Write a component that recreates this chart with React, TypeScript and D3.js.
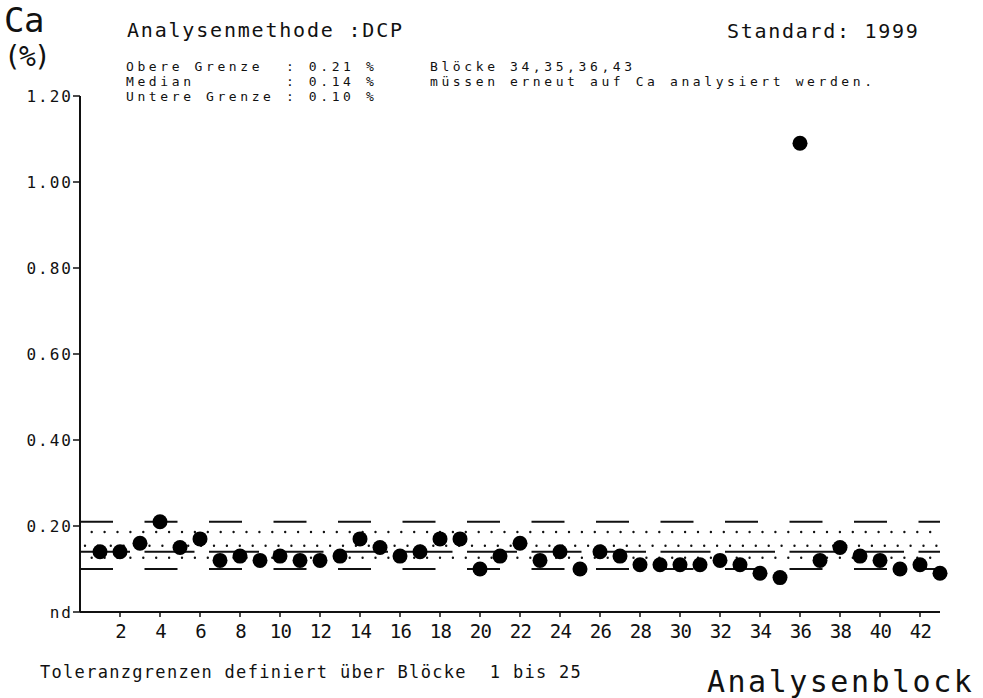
import * as d3 from "d3";

// Ca-Gehalt je Analysenblock (%)
const caValues = [
  0.14, 0.14, 0.16, 0.21, 0.15, 0.17, 0.12, 0.13, 0.12, 0.13,
  0.12, 0.12, 0.13, 0.17, 0.15, 0.13, 0.14, 0.17, 0.17, 0.1,
  0.13, 0.16, 0.12, 0.14, 0.1, 0.14, 0.13, 0.11, 0.11, 0.11,
  0.11, 0.12, 0.11, 0.09, 0.08, 1.09, 0.12, 0.15, 0.13, 0.12,
  0.1, 0.11, 0.09,
];
const blocks = caValues.map((_, i) => i + 1);

const xTicks = [2, 4, 6, 8, 10, 12, 14, 16, 18, 20, 22, 24, 26, 28, 30, 32, 34, 36, 38, 40, 42];
const yTicks = [0, 0.2, 0.4, 0.6, 0.8, 1.0, 1.2];
const yTickLabels = ["nd", "0.20", "0.40", "0.60", "0.80", "1.00", "1.20"];

const upperLimit = 0.21;
const medianValue = 0.14;
const lowerLimit = 0.1;
const dottedBands = [0.186, 0.154, 0.126];

const infoLines = [
  "Obere Grenze  : 0.21 %",
  "Median        : 0.14 %",
  "Untere Grenze : 0.10 %",
];
const noteLines = ["Blöcke 34,35,36,43", "müssen erneut auf Ca analysiert werden."];

const WIDTH = 983;
const HEIGHT = 698;
const FONT = "'DejaVu Sans Mono', monospace";

const App = () => {
  const xScale = d3.scaleLinear().domain([0, 43]).range([80, 940]);
  const yScale = d3.scaleLinear().domain([0, 1.2]).range([612, 96]);

  const x0 = xScale(0);
  const x1 = xScale(43);
  const period = 64.5;

  const textBase = { fontFamily: FONT, fill: "#111", whiteSpace: "pre" as const };

  return (
    <svg
      width={WIDTH}
      height={HEIGHT}
      style={{ position: "absolute", left: 0, top: 0, background: "#fff" }}
    >
      {/* header */}
      <text x={4} y={32} fontSize={34} letterSpacing={-0.5} style={textBase}>
        Ca
      </text>
      <text x={4} y={66} fontSize={28} letterSpacing={-1.8} style={textBase}>
        (%)
      </text>
      <text x={127} y={37} fontSize={20} letterSpacing={1.8} style={textBase}>
        Analysenmethode :DCP
      </text>
      <text x={727} y={38} fontSize={20} letterSpacing={1.7} style={textBase}>
        Standard: 1999
      </text>
      {infoLines.map((t, i) => (
        <text key={t} x={126} y={71 + i * 15.1} fontSize={13} letterSpacing={3.6} style={textBase}>
          {t}
        </text>
      ))}
      {noteLines.map((t, i) => (
        <text key={t} x={430} y={71 + i * 15.1} fontSize={13} letterSpacing={3.6} style={textBase}>
          {t}
        </text>
      ))}

      {/* limit lines */}
      <line
        x1={x0}
        x2={x1}
        y1={yScale(upperLimit)}
        y2={yScale(upperLimit)}
        stroke="#111"
        strokeWidth={2}
        strokeDasharray={`33 ${period - 33}`}
      />
      <line
        x1={x0}
        x2={x1}
        y1={yScale(lowerLimit)}
        y2={yScale(lowerLimit)}
        stroke="#111"
        strokeWidth={2}
        strokeDasharray={`33 ${period - 33}`}
      />
      <line
        x1={x0}
        x2={x1}
        y1={yScale(medianValue)}
        y2={yScale(medianValue)}
        stroke="#111"
        strokeWidth={2}
        strokeDasharray={`50 ${period - 50}`}
      />
      {dottedBands.map((v, i) => (
        <line
          key={v}
          x1={x0}
          x2={x1}
          y1={yScale(v)}
          y2={yScale(v)}
          stroke="#111"
          strokeWidth={2.4}
          strokeLinecap="round"
          strokeDasharray="0 12.9"
          strokeDashoffset={i === 1 ? -5 : -11.7}
        />
      ))}

      {/* axes */}
      <line x1={x0} x2={x0} y1={yScale(1.2)} y2={yScale(0)} stroke="#111" strokeWidth={2} />
      <line x1={x0} x2={x1} y1={yScale(0)} y2={yScale(0)} stroke="#111" strokeWidth={2} />
      {yTicks.map((v, i) => (
        <g key={v}>
          <line x1={x0 - 7} x2={x0} y1={yScale(v)} y2={yScale(v)} stroke="#111" strokeWidth={1.5} />
          <text
            x={x0 - 9 + 2}
            y={yScale(v)}
            dy="0.36em"
            textAnchor="end"
            fontSize={16}
            letterSpacing={2}
            style={textBase}
          >
            {yTickLabels[i]}
          </text>
        </g>
      ))}
      {xTicks.map((v) => (
        <g key={v}>
          <line
            x1={xScale(v)}
            x2={xScale(v)}
            y1={yScale(0)}
            y2={yScale(0) + 5}
            stroke="#111"
            strokeWidth={1.5}
          />
          <text
            x={xScale(v) + 0.5}
            y={638}
            textAnchor="middle"
            fontSize={19}
            letterSpacing={-0.8}
            style={textBase}
          >
            {v}
          </text>
        </g>
      ))}

      {/* data points */}
      {blocks.map((b, i) => (
        <circle key={b} cx={xScale(b)} cy={yScale(caValues[i])} r={7.5} fill="#000" />
      ))}

      {/* footer */}
      <text x={40} y={678} fontSize={17} letterSpacing={1.3} style={textBase}>
        Toleranzgrenzen definiert über Blöcke  1 bis 25
      </text>
      <text x={707} y={692} fontSize={30} letterSpacing={2.5} style={textBase}>
        Analysenblock
      </text>
    </svg>
  );
};

export default App;
